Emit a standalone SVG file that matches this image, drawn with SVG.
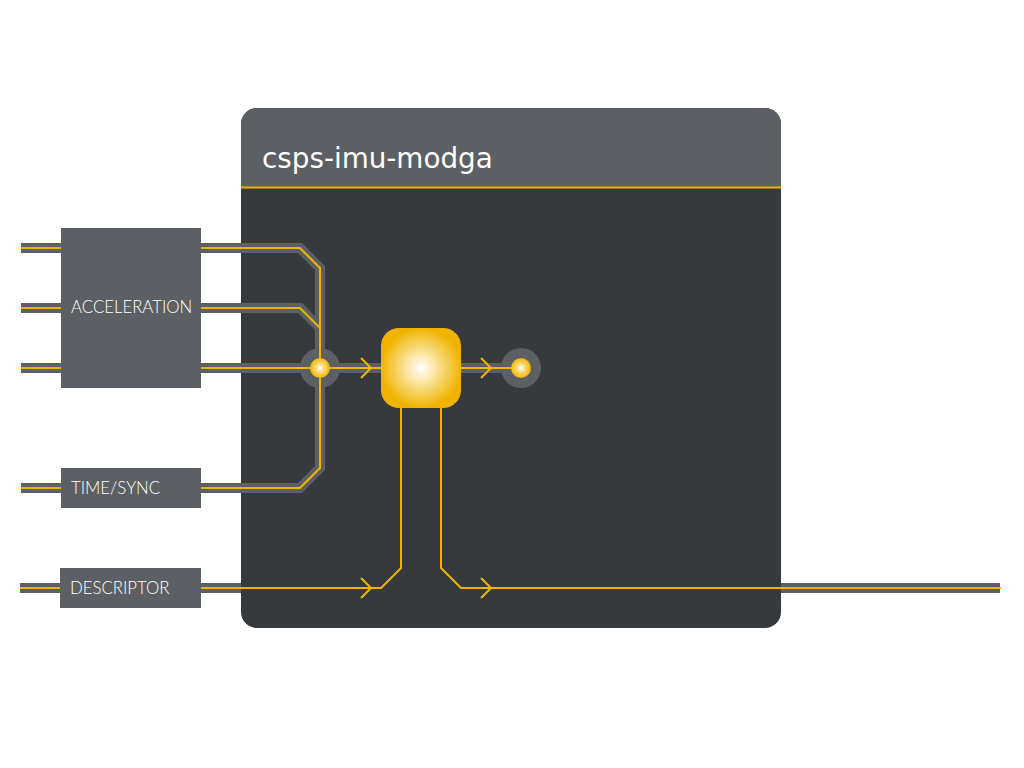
<svg xmlns="http://www.w3.org/2000/svg" width="1024" height="768" viewBox="0 0 1024 768">
<defs>
<style>
.band{fill:none;stroke:#5c5f63;stroke-width:10;stroke-linejoin:miter}
.wire{fill:none;stroke:#f0b400;stroke-width:2}
.lbl{font-family:Lato,"Liberation Sans",sans-serif;font-weight:300;font-size:16.8px;fill:#ffffff}
.box{fill:#5c5f63}
.ring{fill:#5c5f63}
</style>
<radialGradient id="glow" cx="50%" cy="50%" r="50%">
<stop offset="0" stop-color="#ffffff"/>
<stop offset="0.35" stop-color="#fbe7a6"/>
<stop offset="1" stop-color="#f0b400"/>
</radialGradient>
<radialGradient id="dot" cx="50%" cy="50%" r="50%">
<stop offset="0" stop-color="#ffffff"/>
<stop offset="0.5" stop-color="#f8d66a"/>
<stop offset="1" stop-color="#f0b400"/>
</radialGradient>
<marker id="chev" viewBox="0 0 12 22" refX="11" refY="11" markerWidth="12" markerHeight="22" markerUnits="userSpaceOnUse" orient="auto">
<path d="M1,1 L11,11 L1,21" fill="none" stroke="#f0b400" stroke-width="2"/>
</marker>
</defs>
<rect width="1024" height="768" fill="#ffffff"/>
<g id="container">
<rect x="241" y="108" width="540" height="520" rx="16" fill="#363a3d"/>
<path d="M241,187 V124 A16,16 0 0 1 257,108 H765 A16,16 0 0 1 781,124 V187 Z" fill="#5c5f63"/>
<line x1="241" y1="187.5" x2="781" y2="187.5" stroke="#f0b400" stroke-width="2"/>
<text x="262" y="168" font-family="DejaVu Sans,sans-serif" font-size="27.8" fill="#ffffff">csps-imu-modga</text>
</g>
<g id="connectors">
<g class="bands">
<path class="band" d="M21,248 H61"/>
<path class="band" d="M21,308 H61"/>
<path class="band" d="M21,368 H61"/>
<path class="band" d="M21,488 H61"/>
<path class="band" d="M20,588 H60"/>
<path class="band" d="M201,248 H300 L320,268 V468 L300,488 H201"/>
<path class="band" d="M201,308 H300 L320,328"/>
<path class="band" d="M201,368 H381"/>
<path class="band" d="M461,368 H521"/>
<path class="band" d="M201,588 H241"/>
<path class="band" d="M781,588 H1000"/>
</g>
<circle class="ring" cx="320" cy="368" r="20"/>
<circle class="ring" cx="521" cy="368" r="20"/>
<path class="wire" d="M21,248 H61"/>
<path class="wire" d="M21,308 H61"/>
<path class="wire" d="M21,368 H61"/>
<path class="wire" d="M21,488 H61"/>
<path class="wire" d="M20,588 H60"/>
<path class="wire" d="M201,248 H300 L320,268 V368"/>
<path class="wire" d="M201,308 H300 L320,328"/>
<path class="wire" d="M201,368 H320"/>
<path class="wire" d="M201,488 H300 L320,468 V368"/>
<path class="wire" d="M320,368 H371" marker-end="url(#chev)"/>
<path class="wire" d="M371,368 H381"/>
<path class="wire" d="M461,368 H491" marker-end="url(#chev)"/>
<path class="wire" d="M491,368 H521"/>
<path class="wire" d="M201,588 H371" marker-end="url(#chev)"/>
<path class="wire" d="M371,588 H381 L401,568 V408"/>
<path class="wire" d="M441,408 V568 L461,588 H491" marker-end="url(#chev)"/>
<path class="wire" d="M491,588 H1001"/>
</g>
<g id="acceleration">
<rect class="box" x="61" y="228" width="140" height="160"/>
<text class="lbl" x="71" y="313">ACCELERATION</text>
</g>
<g id="timesync">
<rect class="box" x="61" y="468" width="140" height="40"/>
<text class="lbl" x="71" y="494">TIME/SYNC</text>
</g>
<g id="descriptor">
<rect class="box" x="60" y="568" width="141" height="40"/>
<text class="lbl" x="70" y="594">DESCRIPTOR</text>
</g>
<g id="junction">
<circle cx="320" cy="368" r="10" fill="url(#dot)"/>
</g>
<g id="processor">
<rect x="381" y="328" width="80" height="80" rx="18" fill="url(#glow)"/>
</g>
<g id="output">
<circle cx="521" cy="368" r="10" fill="url(#dot)"/>
</g>
</svg>
